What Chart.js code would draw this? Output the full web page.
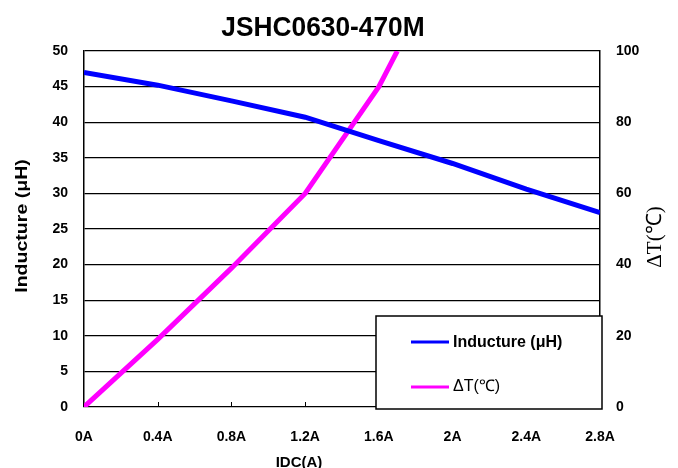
<!DOCTYPE html>
<html>
<head>
<meta charset="utf-8">
<script src="https://cdn.jsdelivr.net/npm/chart.js@4"></script>
<style>
    html, body { margin: 0; padding: 0; background: #fff; }
    #wrap { width: 678px; height: 468px; }
</style>
</head>
<body>
<div id="wrap"><canvas id="chart" width="678" height="468"></canvas></div>
<script>
// courant (A)
var currents = [0, 0.4, 0.8, 1.2, 1.6, 2.0, 2.4, 2.8];
// inductance (uH)
var inductance = [47.0, 45.2, 43.0, 40.7, 37.4, 34.2, 30.6, 27.3];
// élévation de température
var tempCurrents = [0, 0.4, 0.8, 1.2, 1.6, 1.7];
var tempRise = [0, 19, 39, 60, 90, 100];

var xTicks = [0, 0.4, 0.8, 1.2, 1.6, 2.0, 2.4, 2.8];

function toPoints(xs, ys) {
    var pts = [];
    for (var i = 0; i < xs.length; i++) {
        pts.push({x: xs[i], y: ys[i]});
    }
    return pts;
}

var FONT = '"Liberation Sans", Arial, sans-serif';

// titres, petites graduations et légende encadrée
var decor = {
    id: 'decor',
    afterDraw: function (chart) {
        var ctx = chart.ctx;
        var area = chart.chartArea;
        var x = chart.scales.x;

        ctx.save();
        ctx.fillStyle = '#000';
        ctx.textAlign = 'center';
        ctx.textBaseline = 'middle';

        // titre
        ctx.save();
        ctx.translate(323, 28);
        ctx.scale(0.94, 1);
        ctx.font = 'bold 28px ' + FONT;
        ctx.fillText('JSHC0630-470M', 0, 0);
        ctx.restore();

        // titre axe x
        ctx.font = 'bold 15px ' + FONT;
        ctx.fillText('IDC(A)', 299, 463);

        // titre axe gauche
        ctx.save();
        ctx.translate(22, 226);
        ctx.rotate(-Math.PI / 2);
        ctx.scale(1.15, 1);
        ctx.font = 'bold 17px ' + FONT;
        ctx.fillText('Inducture (\u03bcH)', 0, 0);
        ctx.restore();

        // titre axe droit
        ctx.save();
        ctx.translate(655, 237);
        ctx.rotate(-Math.PI / 2);
        ctx.font = '21px "Liberation Serif", serif';
        ctx.fillText('\u0394T(\u2103)', 0, 0);
        ctx.restore();

        // graduations vers l'intérieur
        ctx.strokeStyle = '#000';
        ctx.lineWidth = 1;
        for (var i = 1; i < xTicks.length - 1; i++) {
            var px = Math.round(x.getPixelForValue(xTicks[i])) + 0.5;
            ctx.beginPath();
            ctx.moveTo(px, area.bottom);
            ctx.lineTo(px, area.bottom - 5);
            ctx.stroke();
        }

        // légende
        ctx.fillStyle = '#fff';
        ctx.fillRect(376, 316, 226, 93);
        ctx.lineWidth = 1.5;
        ctx.strokeRect(376, 316, 226, 93);

        ctx.lineWidth = 3;
        ctx.strokeStyle = '#0000ff';
        ctx.beginPath();
        ctx.moveTo(411, 342);
        ctx.lineTo(449, 342);
        ctx.stroke();
        ctx.strokeStyle = '#ff00ff';
        ctx.beginPath();
        ctx.moveTo(411, 387);
        ctx.lineTo(449, 387);
        ctx.stroke();

        ctx.fillStyle = '#000';
        ctx.textAlign = 'left';
        ctx.font = 'bold 16px ' + FONT;
        ctx.fillText('Inducture (\u03bcH)', 453, 343);
        ctx.font = '16px ' + FONT;
        ctx.fillText('\u0394T(\u2103)', 453, 387);
        ctx.restore();
    }
};

new Chart(document.getElementById('chart'), {
    type: 'line',
    data: {
        datasets: [{
            label: 'Inducture (\u03bcH)',
            data: toPoints(currents, inductance),
            borderColor: '#0000ff',
            borderWidth: 5,
            pointRadius: 0,
            yAxisID: 'y',
            clip: 0
        }, {
            label: '\u0394T(\u2103)',
            data: toPoints(tempCurrents, tempRise),
            borderColor: '#ff00ff',
            borderWidth: 5,
            pointRadius: 0,
            yAxisID: 'y1',
            clip: 0
        }]
    },
    options: {
        responsive: false,
        animation: false,
        layout: {padding: {top: 51, left: 0, right: 0, bottom: 0}},
        plugins: {
            legend: {display: false},
            title: {display: false},
            tooltip: {enabled: false}
        },
        scales: {
            x: {
                type: 'linear',
                min: 0,
                max: 2.8,
                afterBuildTicks: function (scale) {
                    scale.ticks = xTicks.map(function (v) { return {value: v}; });
                },
                afterFit: function (scale) { scale.height = 61; },
                grid: {display: false, drawTicks: false},
                border: {display: false},
                ticks: {
                    padding: 22,
                    maxRotation: 0,
                    color: '#000',
                    font: {family: FONT, size: 14, weight: 'bold'},
                    callback: function (v) { return (+v.toFixed(1)) + 'A'; }
                }
            },
            y: {
                position: 'left',
                min: 0,
                max: 50,
                afterFit: function (scale) { scale.width = 84; },
                ticks: {
                    stepSize: 5,
                    padding: 16,
                    color: '#000',
                    font: {family: FONT, size: 14, weight: 'bold'}
                },
                grid: {color: '#000', lineWidth: 1.2, drawTicks: false},
                border: {display: true, color: '#000', width: 1.5}
            },
            y1: {
                position: 'right',
                min: 0,
                max: 100,
                afterFit: function (scale) { scale.width = 78; },
                ticks: {
                    stepSize: 20,
                    padding: 16,
                    color: '#000',
                    font: {family: FONT, size: 14, weight: 'bold'}
                },
                grid: {display: false, drawTicks: false},
                border: {display: true, color: '#000', width: 1.5}
            }
        }
    },
    plugins: [decor]
});
</script>
</body>
</html>
